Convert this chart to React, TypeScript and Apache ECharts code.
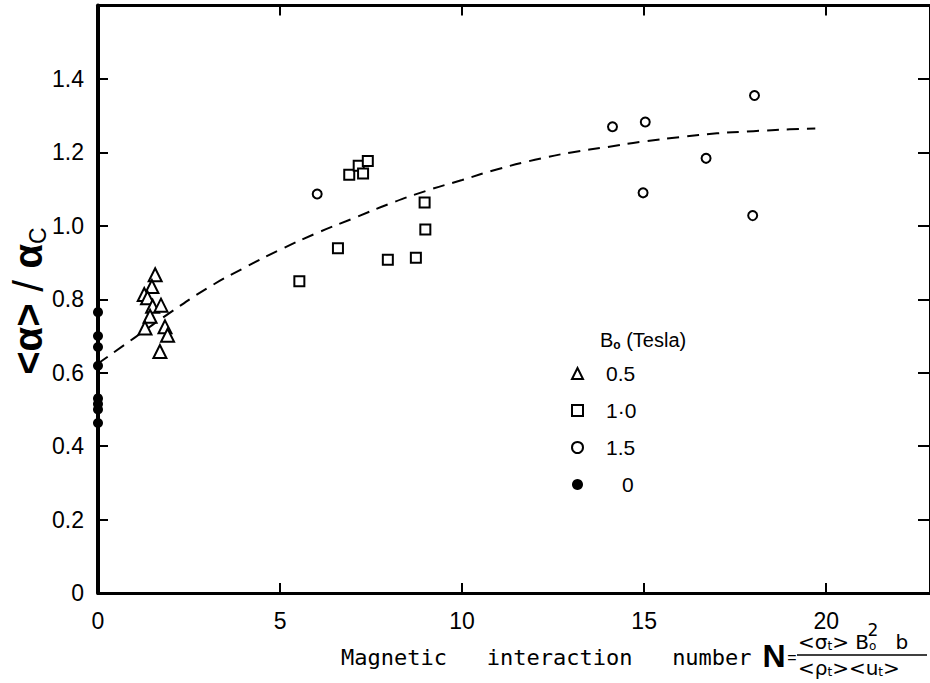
import React, { useEffect, useRef } from "react";
import * as echarts from "echarts";

// B0 = 0.5 T (open triangles)
const triX = [1.57, 1.48, 1.27, 1.36, 1.5, 1.73, 1.43, 1.29, 1.84, 1.91, 1.7];
const triY = [0.867, 0.835, 0.813, 0.804, 0.781, 0.784, 0.754, 0.722, 0.725, 0.702, 0.658];
// B0 = 1.0 T (open squares)
const sqX = [5.53, 6.59, 6.9, 7.16, 7.28, 7.41, 7.96, 8.73, 8.97, 8.99];
const sqY = [0.849, 0.939, 1.139, 1.164, 1.143, 1.177, 0.908, 0.913, 1.064, 0.99];
// B0 = 1.5 T (open circles)
const cirX = [6.02, 14.13, 15.03, 18.03, 16.7, 14.97, 17.98];
const cirY = [1.087, 1.27, 1.283, 1.355, 1.184, 1.09, 1.028];
// B0 = 0 (filled dots)
const dotX = [0, 0, 0, 0, 0, 0, 0, 0];
const dotY = [0.765, 0.7, 0.67, 0.619, 0.53, 0.515, 0.5, 0.463];
// dashed trend curve
const curveX = [0, 1, 2, 3, 4, 5, 6, 7, 8, 9, 10, 11, 12, 13, 14, 15, 16, 17, 18, 19, 19.7];
const curveY = [0.625, 0.695, 0.765, 0.83, 0.885, 0.935, 0.98, 1.02, 1.06, 1.095, 1.125, 1.155, 1.18, 1.2, 1.215, 1.23, 1.242, 1.252, 1.258, 1.263, 1.265];

const seriesNames = ["0.5", "1·0", "1.5", "0"];
const legendTitle = "(Tesla)";
const xTitle = "Magnetic   interaction   number";

const zip = (xs: number[], ys: number[]) => xs.map((x, i) => [x, ys[i]]);

const FONT = "'Liberation Sans', Arial, sans-serif";
const DJ = "'DejaVu Sans', sans-serif";

export default function App() {
  const ref = useRef<HTMLDivElement>(null);
  useEffect(() => {
    if (!ref.current) return;
    const chart = echarts.init(ref.current, undefined, { renderer: "svg" });
    const axisLine = { show: true, onZero: false, lineStyle: { color: "#000", width: 3 } };
    const tick = { show: true, inside: true, length: 10, lineStyle: { color: "#000", width: 2 } };
    const open = { color: "#fff", borderColor: "#000", borderWidth: 2, opacity: 1 };
    chart.setOption({
      animation: false,
      backgroundColor: "#fff",
      grid: { left: 98, top: 5.6, width: 833, height: 587.4, containLabel: false },
      xAxis: [
        {
          type: "value", min: 0, max: 22.85, interval: 5, position: "bottom",
          axisLine, axisTick: tick, splitLine: { show: false },
          axisLabel: { showMaxLabel: false, margin: 16, fontSize: 23, fontFamily: FONT, color: "#000" },
        },
        {
          type: "value", min: 0, max: 22.85, interval: 5, position: "top",
          axisLine, axisTick: tick, splitLine: { show: false }, axisLabel: { show: false },
        },
      ],
      yAxis: [
        {
          type: "value", min: 0, max: 1.6, interval: 0.2, position: "left",
          axisLine: { show: true, onZero: false, lineStyle: { color: "#000", width: 4 } }, axisTick: tick, splitLine: { show: false },
          axisLabel: {
            showMaxLabel: false, margin: 14, fontSize: 23, fontFamily: FONT, color: "#000",
            formatter: (v: number) => (v === 0 ? "0" : v.toFixed(1)),
          },
        },
        {
          type: "value", min: 0, max: 1.6, interval: 0.2, position: "right",
          axisLine, axisTick: { ...tick, length: 12 }, splitLine: { show: false }, axisLabel: { show: false },
        },
      ],
      legend: {
        orient: "vertical", left: 566, top: 358, itemWidth: 11, itemHeight: 11, itemGap: 16,
        data: seriesNames,
        formatter: (name: string) => (name === "0" ? `{z|${name}}` : `{t|${name}}`),
        textStyle: {
          color: "#000", fontFamily: FONT, fontSize: 21,
          rich: {
            t: { fontSize: 21, fontFamily: FONT, color: "#000", padding: [0, 0, 0, 18] },
            z: { fontSize: 21, fontFamily: FONT, color: "#000", padding: [0, 0, 0, 34] },
          },
        },
      },
      series: [
        {
          name: "trend", type: "line", data: zip(curveX, curveY), smooth: true, showSymbol: false,
          lineStyle: { color: "#000", width: 2, type: [12, 8] }, silent: true, z: 1,
        },
        { name: seriesNames[0], type: "scatter", symbol: "triangle", symbolSize: 13, itemStyle: open, data: zip(triX, triY), clip: false, z: 3 },
        { name: seriesNames[1], type: "scatter", symbol: "rect", symbolSize: 10, itemStyle: open, data: zip(sqX, sqY), clip: false, z: 3 },
        { name: seriesNames[2], type: "scatter", symbol: "circle", symbolSize: 9, itemStyle: open, data: zip(cirX, cirY), clip: false, z: 3 },
        { name: seriesNames[3], type: "scatter", symbol: "circle", symbolSize: 10, itemStyle: { color: "#000", opacity: 1 }, data: zip(dotX, dotY), clip: false, z: 4 },
      ],
      graphic: [
        {
          type: "text", x: 28, y: 301, rotation: Math.PI / 2,
          style: {
            text: "{a|<α>}{b| / }{a|α}{c|C}", align: "center", verticalAlign: "middle", fill: "#000",
            rich: {
              a: { fontSize: 40, fontWeight: "bold", fontFamily: FONT, fill: "#000", lineHeight: 42 },
              b: { fontSize: 42, fontWeight: "normal", fontFamily: FONT, fill: "#000", lineHeight: 42 },
              c: { fontSize: 23, fontFamily: FONT, fill: "#000", verticalAlign: "bottom", lineHeight: 42 },
            },
          },
        },
        {
          type: "text", x: 600, y: 340,
          style: {
            text: `{n|B}{s|o}{n| ${legendTitle}}`, verticalAlign: "middle", fill: "#000",
            rich: {
              n: { fontSize: 20, fontFamily: FONT, fill: "#000", lineHeight: 22 },
              s: { fontSize: 12, fontFamily: FONT, fontWeight: "bold", fill: "#000", verticalAlign: "bottom", lineHeight: 22 },
            },
          },
        },
        {
          type: "text", x: 341, y: 657,
          style: { text: xTitle, font: "22px 'DejaVu Sans Mono', monospace", fill: "#000", verticalAlign: "middle" },
        },
        {
          type: "text", x: 774, y: 656,
          style: { text: "N", font: "bold 32px " + FONT, fill: "#000", align: "center", verticalAlign: "middle" },
        },
        {
          type: "text", x: 792, y: 657,
          style: { text: "=", font: "16px " + FONT, fill: "#000", align: "center", verticalAlign: "middle" },
        },
        {
          type: "text", x: 798, y: 642,
          style: {
            text: "{m|<σ}{s|t}{m|> B}{s|o}{m|   b}", verticalAlign: "middle", fill: "#000",
            rich: {
              m: { fontSize: 20, fontFamily: DJ, fill: "#000", lineHeight: 20 },
              s: { fontSize: 12, fontFamily: DJ, fill: "#000", verticalAlign: "bottom", lineHeight: 20 },
            },
          },
        },
        {
          type: "text", x: 873, y: 630,
          style: { text: "2", font: "17px " + DJ, fill: "#000", align: "center", verticalAlign: "middle" },
        },
        { type: "line", shape: { x1: 797, y1: 655, x2: 927, y2: 655 }, style: { stroke: "#000", lineWidth: 1.5 } },
        {
          type: "text", x: 798, y: 668,
          style: {
            text: "{m|<ρ}{s|t}{m|><u}{s|t}{m|>}", verticalAlign: "middle", fill: "#000",
            rich: {
              m: { fontSize: 20, fontFamily: DJ, fill: "#000", lineHeight: 20 },
              s: { fontSize: 12, fontFamily: DJ, fill: "#000", verticalAlign: "bottom", lineHeight: 20 },
            },
          },
        },
      ],
    });
    return () => chart.dispose();
  }, []);
  return <div ref={ref} style={{ position: "absolute", left: 0, top: 0, width: 930, height: 683 }} />;
}
